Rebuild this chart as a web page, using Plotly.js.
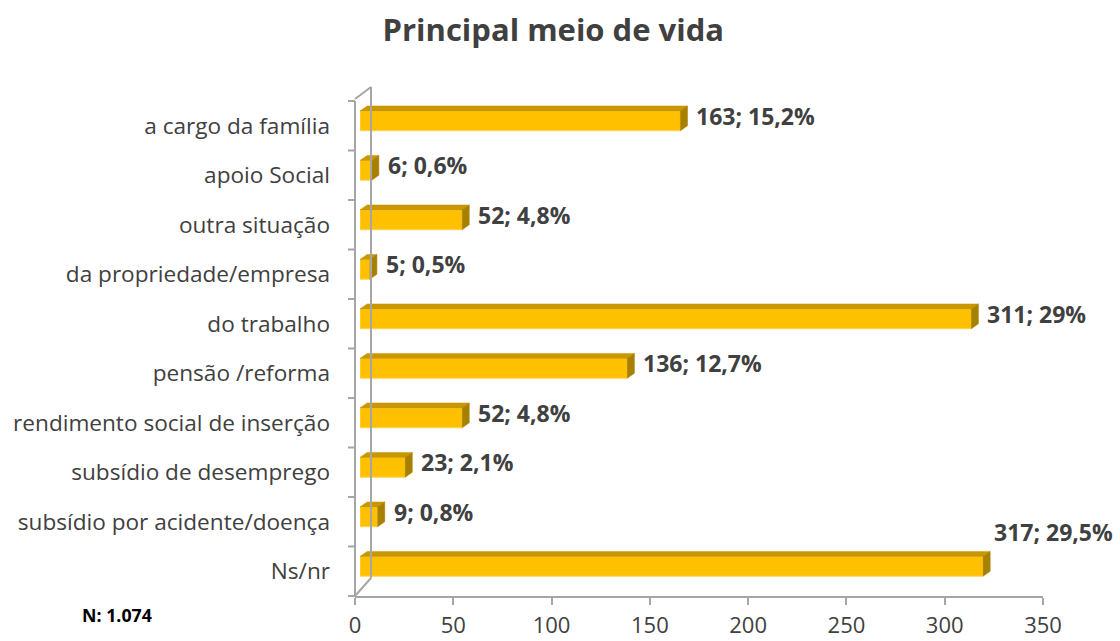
<!DOCTYPE html>
<html><head><meta charset="utf-8">
<script src="https://cdn.plot.ly/plotly-3.0.1.min.js"></script>
<style>body{margin:0;background:#fff}#chart{width:1120px;height:641px}</style>
</head><body><div id="chart"></div>
<script>
var categories = ["a cargo da família","apoio Social","outra situação","da propriedade/empresa","do trabalho","pensão /reforma","rendimento social de inserção","subsídio de desemprego","subsídio por acidente/doença","Ns/nr"];
var values = [163, 6, 52, 5, 311, 136, 52, 23, 9, 317];
var percents = ["15,2%","0,6%","4,8%","0,5%","29%","12,7%","4,8%","2,1%","0,8%","29,5%"];
var xTicks = [0, 50, 100, 150, 200, 250, 300, 350];

var FONT = "'Open Sans', sans-serif";
var TXT = "#404040";
var W = 1120, H = 641, L = 355, R = 72, T = 101, B = 45;
var plotW = W - L - R, plotH = H - T - B;
var axisLen = 688, shift = 5;
var dx = 3.6;      // bar depth in x units
var dy = 0.1;      // bar depth in category units
var bw = 0.4, off = -0.3;

var pos = categories.map(function(_, i){ return i; });

var front = {
  type: "bar", orientation: "h", x: values, y: pos, xaxis: "x2", yaxis: "y",
  width: bw, offset: off,
  marker: {color: "#FFC000", line: {color: "#FFD24D", width: 1}},
  hoverinfo: "skip"
};
var tops = [], sides = [];
values.forEach(function(v, i){
  var yt = i + off, yb = i + off + bw;
  tops.push({type:"scatter", mode:"lines", xaxis:"x2", yaxis:"y", fill:"toself",
    x:[0, v, v+dx, dx, 0], y:[yt, yt, yt-dy, yt-dy, yt],
    fillcolor:"#C99700", line:{color:"#C99700", width:0.5}, hoverinfo:"skip", showlegend:false});
  sides.push({type:"scatter", mode:"lines", xaxis:"x2", yaxis:"y", fill:"toself",
    x:[v, v+dx, v+dx, v, v], y:[yt, yt-dy, yb-dy, yb, yt],
    fillcolor:"#A88000", line:{color:"#A88000", width:0.5}, hoverinfo:"skip", showlegend:false});
});

var annotations = values.map(function(v, i){
  var last = (i === values.length - 1);
  return {
    xref: "x", yref: "y", x: v + dx, y: last ? i - 0.42 : i + off + bw/2 - dy,
    text: v + "; " + percents[i], showarrow: false,
    xanchor: "left", yanchor: last ? "bottom" : "middle",
    xshift: shift + (last ? 2 : 7), yshift: 0,
    font: {family: FONT, size: 23, color: TXT, weight: "bold"}
  };
});
annotations.push({xref:"paper", yref:"paper", x:(80-L)/plotW, y:-(615-(H-B))/plotH, xanchor:"left", yanchor:"middle",
  text:"N: 1.074", showarrow:false, font:{family:FONT, size:17.8, color:"#000", weight:"bold"}});

var gray = "#A6A6A6";
var shapes = [
  {type:"line", xref:"paper", yref:"paper", xsizemode:"pixel", ysizemode:"pixel", xanchor:0, yanchor:0,
   x0:0, x1:0, y0:0, y1:plotH, line:{color:gray, width:2}},
  {type:"line", xref:"paper", yref:"paper", xsizemode:"pixel", ysizemode:"pixel", xanchor:0, yanchor:0,
   x0:16, x1:16, y0:18, y1:plotH + 14, line:{color:gray, width:2}},
  {type:"line", xref:"paper", yref:"paper", xsizemode:"pixel", ysizemode:"pixel", xanchor:0, yanchor:0,
   x0:0, x1:16, y0:0, y1:18, line:{color:gray, width:2}},
  {type:"line", xref:"paper", yref:"paper", xsizemode:"pixel", ysizemode:"pixel", xanchor:0, yanchor:1,
   x0:0, x1:16, y0:2, y1:14, line:{color:gray, width:2}}
];
for (var k = 0; k <= categories.length; k++) {
  shapes.push({type:"line", xref:"paper", yref:"paper", xsizemode:"pixel", xanchor:0, x0:-7, x1:0,
    y0:k/categories.length, y1:k/categories.length, line:{color:gray, width:2}});
}

var layout = {
  width: W, height: H,
  margin: {l: L, r: R, t: T, b: B},
  paper_bgcolor: "#fff", plot_bgcolor: "rgba(0,0,0,0)",
  showlegend: false,
  title: {text: "<b>Principal meio de vida</b>", x: 0.494, xanchor: "center", y: 0.953, yanchor: "middle",
          font: {family: FONT, size: 31, color: TXT}},
  xaxis: {domain: [0, axisLen/plotW], range: [0, 350], tickvals: xTicks, ticktext: xTicks.map(String),
          showgrid: false, zeroline: false, showline: true, linecolor: gray, linewidth: 2,
          ticks: "outside", ticklen: 7, tickcolor: gray, tickwidth: 2, ticklabelstandoff: 2,
          tickfont: {family: FONT, size: 22, color: TXT}, anchor: "y", fixedrange: true},
  xaxis2: {domain: [shift/plotW, (axisLen+shift)/plotW], range: [0, 350], visible: false, anchor: "y", fixedrange: true},
  yaxis: {range: [9.5, -0.5], tickvals: pos, ticktext: categories, showgrid: false, zeroline: false,
          showline: false, ticks: "",
          tickfont: {family: FONT, size: 22.6, color: TXT}, ticklabelstandoff: 24, fixedrange: true},
  annotations: annotations,
  shapes: shapes
};

Plotly.newPlot("chart", [front].concat(tops, sides), layout, {staticPlot: true});
</script></body></html>
